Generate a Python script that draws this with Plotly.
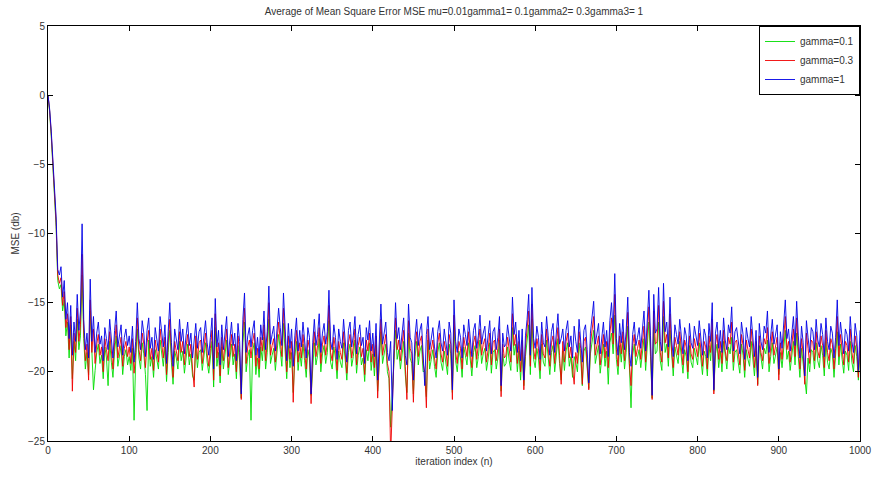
import plotly.graph_objects as go

# iteration index sampled every 2 iterations
iterations = list(range(0, 1001, 2))

mse_gamma_1 = [
    0, -1.0, -2.6, -4.8, -6.5, -8.8, -12.6, -13.0, -12.4, -14.6, -13.4, -16.2, -15.0, -17.6, -15.2, -18.8, -16.4, -17.8, -14.4, -17.0, -15.6, -9.3, -16.2, -18.4, -17.2,
    -19.0, -13.3, -17.8, -16.0, -18.6, -17.2, -16.4, -18.0, -17.4, -19.2, -16.8, -17.6, -18.4, -16.2, -17.9, -19.0, -17.0, -15.6, -18.2, -17.3, -16.6, -18.8, -17.5, -16.9, -18.1,
    -17.4, -18.6, -16.7, -19.3, -17.8, -15.0, -17.6, -18.4, -16.3, -17.2, -18.9, -17.0, -16.1, -18.3, -17.5, -19.1, -16.8, -17.7, -18.5, -16.0, -17.3, -18.2, -16.6, -19.4, -17.1,
    -15.0, -17.9, -19.6, -16.9, -17.6, -18.4, -16.2, -17.8, -16.9, -18.7, -17.4, -16.4, -18.1, -17.2, -19.0, -17.7, -16.5, -18.3, -17.1, -16.8, -18.6, -17.4, -16.3, -17.9, -18.8,
    -17.5, -16.1, -19.8, -14.7, -18.2, -17.0, -19.5, -16.6, -18.4, -17.3, -16.0, -18.9, -17.6, -16.4, -18.1, -17.2, -19.2, -16.5, -17.8, -21.6, -16.2, -14.3, -18.6, -17.4, -16.8,
    -18.2, -17.0, -16.3, -18.8, -17.5, -19.0, -16.6, -17.7, -15.6, -18.4, -17.1, -13.8, -18.0, -17.3, -16.7, -18.5, -17.2, -15.4, -16.8, -18.1, -14.3, -17.4, -19.2, -16.5, -18.3,
    -16.9, -19.6, -17.4, -16.1, -18.5, -17.0, -18.2, -16.4, -17.7, -19.0, -16.8, -17.5, -21.6, -17.9, -16.2, -18.1, -17.3, -15.8, -18.6, -17.2, -16.5, -18.0, -17.1, -14.1, -17.8,
    -18.4, -16.6, -17.5, -19.1, -16.9, -17.8, -18.3, -16.2, -17.6, -19.3, -17.0, -16.4, -18.2, -17.4, -16.0, -18.7, -17.3, -16.6, -18.1, -17.5, -19.4, -16.8, -17.7, -16.3, -18.5,
    -17.2, -18.9, -16.5, -20.6, -17.4, -15.1, -18.0, -17.1, -16.4, -18.6, -19.2, -17.8, -22.8, -18.3, -15.0, -17.6, -16.8, -18.4, -17.2, -16.1, -18.8, -19.5, -15.1, -17.5, -17.9,
    -20.6, -17.4, -16.2, -18.1, -17.0, -16.5, -18.6, -21.0, -17.3, -16.0, -18.4, -17.6, -16.8, -18.2, -19.0, -17.1, -16.3, -17.9, -18.5, -16.9, -17.7, -18.8, -16.4, -17.2, -21.3,
    -14.8, -17.8, -18.6, -16.9, -17.5, -19.0, -16.6, -17.3, -18.1, -16.2, -17.7, -18.9, -17.0, -16.5, -18.3, -17.4, -15.9, -18.0, -17.2, -16.7, -18.5, -17.6, -16.3, -18.7, -17.1,
    -16.8, -18.4, -17.5, -16.0, -21.0, -17.2, -18.2, -18.0, -16.6, -17.8, -18.5, -14.6, -17.3, -16.4, -18.6, -17.0, -19.2, -16.9, -20.6, -17.4, -16.2, -14.4, -18.8, -13.9, -17.6,
    -18.3, -16.7, -17.5, -19.1, -16.4, -17.9, -18.2, -16.0, -17.4, -18.8, -17.1, -16.5, -18.6, -17.3, -15.8, -18.0, -17.6, -16.9, -18.5, -17.0, -16.3, -18.2, -17.4, -19.0, -16.7,
    -17.8, -18.6, -16.2, -17.5, -19.3, -17.0, -16.6, -18.4, -20.8, -17.2, -15.9, -14.9, -18.0, -17.3, -16.5, -18.7, -17.6, -16.4, -18.2, -17.0, -18.9, -16.3, -15.0, -17.2, -12.9,
    -17.6, -18.8, -16.5, -17.9, -16.2, -18.4, -17.1, -14.6, -18.6, -19.6, -17.3, -16.4, -18.1, -17.5, -16.8, -18.3, -17.0, -15.6, -18.5, -16.1, -14.1, -17.4, -21.7, -14.4, -17.2,
    -16.9, -13.9, -17.8, -18.5, -13.6, -17.1, -16.4, -18.2, -14.6, -17.7, -18.9, -16.6, -17.3, -18.0, -16.2, -17.6, -18.7, -16.8, -17.4, -19.2, -16.5, -17.9, -18.3, -16.7, -17.5,
    -18.1, -16.3, -17.6, -18.8, -16.9, -17.4, -19.0, -16.5, -17.8, -15.0, -21.3, -17.2, -16.4, -18.3, -17.0, -18.6, -16.1, -17.7, -18.4, -16.6, -17.2, -15.3, -18.5, -17.1, -16.8,
    -17.9, -18.7, -16.4, -17.3, -19.1, -16.8, -17.6, -18.2, -16.0, -17.5, -18.9, -17.0, -20.4, -16.5, -17.8, -18.4, -16.7, -17.2, -15.6, -18.6, -17.4, -16.2, -18.0, -17.3, -16.6,
    -19.8, -17.1, -18.3, -16.4, -14.8, -17.6, -16.9, -18.5, -17.2, -16.0, -18.1, -14.9, -17.4, -19.0, -16.7, -17.9, -20.3, -16.3, -17.5, -18.6, -16.8, -17.1, -18.4, -16.2, -17.7,
    -18.2, -16.5, -17.3, -18.9, -16.1, -17.8, -18.4, -16.7, -17.2, -19.0, -17.5, -14.8, -18.1, -16.4, -17.6, -18.7, -16.9, -17.3, -18.5, -16.0, -17.8, -18.6, -16.5, -17.4, -19.9,
    -17.0,
]

mse_gamma_03 = [
    0, -1.1, -2.8, -5.0, -6.8, -9.2, -13.0, -13.6, -13.2, -15.2, -14.2, -16.8, -15.8, -18.4, -16.0, -21.4, -17.2, -18.6, -15.4, -17.8, -16.6, -11.5, -17.0, -19.2, -18.0,
    -20.6, -14.8, -18.6, -16.9, -19.4, -18.0, -17.3, -18.8, -18.2, -20.0, -17.6, -18.4, -19.2, -17.1, -18.7, -19.8, -17.9, -16.6, -19.0, -18.1, -17.5, -19.6, -18.3, -17.8, -18.9,
    -18.2, -19.4, -17.6, -20.1, -18.6, -16.1, -18.4, -19.2, -17.2, -18.0, -19.7, -17.9, -17.0, -19.1, -18.3, -19.9, -17.7, -18.5, -19.3, -16.9, -18.1, -19.0, -17.5, -20.2, -17.9,
    -16.2, -18.7, -20.4, -17.8, -18.4, -19.2, -17.1, -18.6, -17.8, -19.5, -18.2, -17.3, -18.9, -18.0, -19.8, -21.1, -17.4, -19.1, -17.9, -17.7, -19.4, -18.2, -17.2, -18.7, -19.6,
    -18.3, -17.0, -20.6, -15.8, -19.0, -17.9, -20.3, -17.5, -19.2, -18.1, -16.9, -19.7, -18.4, -17.3, -18.9, -18.0, -20.0, -17.4, -18.6, -22.0, -17.1, -15.4, -19.4, -18.2, -17.7,
    -19.0, -17.8, -17.2, -19.6, -18.3, -19.8, -17.5, -18.5, -16.6, -19.2, -17.9, -15.0, -18.8, -18.1, -17.6, -19.3, -18.0, -16.4, -17.7, -18.9, -15.4, -18.2, -20.0, -17.4, -19.1,
    -17.8, -22.2, -18.2, -17.0, -19.3, -17.9, -19.0, -17.3, -18.5, -19.8, -17.7, -18.3, -22.3, -18.7, -17.1, -18.9, -18.1, -16.8, -19.4, -18.0, -17.4, -18.8, -17.9, -15.2, -18.6,
    -19.2, -17.5, -18.3, -19.9, -17.8, -18.6, -19.1, -17.1, -18.4, -20.1, -17.9, -17.3, -19.0, -18.2, -16.9, -19.5, -18.1, -17.5, -18.9, -18.3, -20.2, -17.7, -18.5, -17.2, -19.3,
    -18.0, -19.7, -17.4, -21.9, -18.2, -16.2, -18.8, -17.9, -17.3, -19.4, -20.0, -26.0, -22.0, -19.1, -16.1, -18.4, -17.7, -19.2, -18.0, -17.0, -19.6, -22.0, -16.3, -18.3, -18.7,
    -22.2, -18.2, -17.1, -18.9, -17.8, -17.4, -19.4, -20.0, -22.6, -16.9, -19.2, -18.4, -17.7, -19.0, -19.8, -17.9, -17.2, -18.7, -19.3, -17.8, -18.5, -19.6, -17.3, -18.0, -22.0,
    -15.9, -18.6, -19.4, -17.8, -18.3, -19.8, -17.5, -18.1, -18.9, -17.1, -18.5, -19.7, -17.9, -17.4, -19.1, -18.2, -16.9, -18.8, -18.0, -17.6, -19.3, -18.4, -17.2, -19.5, -17.9,
    -17.7, -19.2, -18.3, -16.9, -21.8, -18.0, -19.0, -18.8, -17.5, -18.6, -19.3, -15.8, -18.1, -17.3, -19.4, -17.8, -20.0, -17.7, -21.3, -18.2, -17.1, -15.6, -19.6, -15.1, -18.4,
    -19.1, -17.6, -18.3, -19.9, -17.3, -18.7, -19.0, -16.9, -18.2, -19.6, -17.9, -17.4, -19.4, -18.1, -16.8, -18.8, -20.9, -17.8, -19.3, -17.8, -17.2, -19.0, -18.2, -19.8, -20.9,
    -18.6, -19.4, -17.1, -18.3, -20.9, -17.8, -17.5, -19.2, -21.3, -18.0, -16.9, -16.0, -18.8, -18.1, -17.4, -19.5, -18.4, -17.3, -19.0, -17.8, -19.7, -17.2, -16.1, -18.0, -14.4,
    -18.4, -19.6, -17.4, -18.7, -17.1, -19.2, -17.9, -15.7, -19.4, -21.0, -18.1, -17.3, -18.9, -18.3, -17.7, -19.1, -17.8, -16.7, -19.3, -17.0, -15.3, -18.2, -22.0, -15.6, -18.0,
    -17.8, -15.2, -18.6, -19.3, -14.9, -17.9, -17.3, -19.0, -15.8, -18.5, -19.7, -17.5, -18.1, -18.8, -17.1, -18.4, -19.5, -17.7, -18.2, -20.0, -17.4, -18.7, -19.1, -17.6, -18.3,
    -18.9, -17.2, -18.4, -19.6, -17.8, -18.2, -19.8, -17.4, -18.6, -16.2, -21.6, -18.0, -17.3, -19.1, -17.8, -19.4, -17.0, -18.5, -19.2, -17.5, -18.0, -16.4, -19.3, -17.9, -17.7,
    -18.7, -19.5, -17.3, -18.1, -19.9, -17.7, -18.4, -19.0, -16.9, -18.3, -19.7, -17.8, -21.0, -17.4, -18.6, -19.2, -17.6, -18.0, -16.8, -19.4, -18.2, -17.1, -18.8, -18.1, -17.5,
    -20.6, -17.9, -19.1, -17.3, -16.0, -18.4, -17.8, -19.3, -18.0, -16.9, -18.9, -16.1, -18.2, -19.8, -17.6, -18.7, -20.9, -17.2, -18.3, -19.4, -17.7, -17.9, -19.2, -17.1, -18.5,
    -19.0, -17.4, -18.1, -19.7, -17.0, -18.6, -19.2, -17.6, -18.0, -19.8, -18.3, -16.0, -18.9, -17.3, -18.4, -19.5, -17.8, -18.1, -19.3, -16.9, -18.6, -19.4, -17.4, -18.2, -20.4,
    -17.8,
]

mse_gamma_01 = [
    0, -1.2, -3.0, -5.2, -7.0, -9.5, -13.4, -14.0, -13.7, -15.6, -14.8, -17.4, -16.4, -19.0, -16.6, -20.5, -17.8, -19.2, -16.2, -18.4, -17.4, -13.0, -17.6, -19.8, -18.6,
    -20.2, -15.6, -19.2, -21.3, -19.9, -18.6, -18.0, -19.4, -18.8, -20.5, -18.2, -19.0, -21.0, -17.8, -19.3, -20.4, -18.5, -17.4, -19.6, -18.7, -18.1, -20.2, -18.9, -18.4, -19.5,
    -18.9, -19.9, -18.3, -23.5, -19.2, -16.9, -19.0, -19.8, -17.9, -18.7, -20.2, -22.8, -17.7, -19.6, -18.9, -20.4, -18.4, -19.1, -19.8, -17.7, -18.8, -19.6, -18.2, -20.7, -18.6,
    -17.0, -19.3, -20.9, -18.5, -19.0, -19.8, -17.8, -19.2, -18.5, -20.1, -18.9, -18.0, -19.5, -18.7, -20.3, -20.6, -18.1, -19.7, -18.6, -18.4, -19.9, -18.9, -17.9, -19.3, -20.1,
    -19.0, -17.8, -21.1, -16.8, -19.6, -18.6, -20.8, -18.2, -19.8, -18.8, -17.7, -20.2, -19.1, -18.0, -19.5, -18.7, -20.5, -18.1, -19.3, -21.9, -17.9, -16.4, -20.0, -18.9, -18.4,
    -23.5, -18.5, -17.9, -20.2, -19.0, -20.4, -18.2, -19.2, -17.5, -19.8, -18.6, -16.2, -19.4, -18.8, -18.3, -19.9, -18.7, -17.3, -18.4, -19.6, -16.5, -18.9, -20.5, -18.1, -19.7,
    -18.6, -21.5, -18.9, -17.8, -19.9, -18.6, -19.6, -18.0, -19.2, -20.4, -18.4, -19.0, -21.7, -19.4, -17.9, -19.5, -18.8, -17.6, -20.0, -18.7, -18.1, -19.4, -18.6, -16.3, -19.3,
    -19.8, -18.2, -19.0, -20.5, -18.5, -19.3, -19.7, -17.9, -19.1, -20.6, -18.6, -18.0, -19.6, -18.9, -17.7, -20.1, -18.8, -18.2, -19.5, -19.0, -20.7, -18.4, -19.2, -17.9, -19.9,
    -18.7, -20.3, -18.1, -21.4, -18.9, -17.1, -19.4, -18.6, -18.0, -20.0, -20.5, -24.0, -21.6, -19.7, -17.0, -19.1, -18.4, -19.8, -18.7, -17.8, -20.2, -21.5, -17.2, -19.0, -19.4,
    -21.6, -18.9, -17.8, -19.5, -18.5, -18.1, -20.0, -19.9, -21.8, -17.7, -19.8, -19.1, -18.4, -19.6, -20.4, -18.6, -17.9, -19.3, -19.9, -18.5, -19.2, -20.2, -18.0, -18.7, -21.5,
    -16.8, -19.2, -20.0, -18.5, -19.0, -20.4, -18.2, -18.8, -19.5, -17.9, -19.1, -20.3, -18.6, -18.1, -19.7, -18.9, -17.7, -19.4, -18.7, -18.3, -19.9, -19.1, -17.9, -20.1, -18.6,
    -18.4, -19.8, -19.0, -17.7, -21.4, -18.7, -19.6, -19.4, -18.2, -19.2, -19.9, -16.8, -18.8, -18.0, -20.0, -18.5, -20.6, -18.4, -21.0, -18.9, -17.9, -16.6, -20.2, -16.2, -19.1,
    -19.7, -18.3, -19.0, -20.5, -18.0, -19.3, -19.6, -17.7, -18.9, -20.2, -18.6, -18.1, -20.0, -18.8, -17.6, -19.4, -20.6, -18.5, -19.9, -18.5, -17.9, -19.6, -18.9, -20.4, -18.9,
    -19.3, -20.0, -17.9, -19.0, -21.0, -18.5, -18.2, -19.8, -21.2, -18.7, -17.7, -17.0, -19.4, -18.8, -18.1, -20.1, -19.1, -18.0, -19.6, -18.5, -20.9, -17.9, -17.2, -18.7, -15.9,
    -19.1, -20.2, -18.1, -19.3, -17.8, -19.8, -18.6, -16.7, -20.0, -22.6, -18.8, -18.0, -19.5, -19.0, -18.4, -19.7, -18.5, -17.6, -19.9, -17.8, -16.4, -18.9, -21.9, -16.8, -18.7,
    -18.5, -16.4, -19.2, -19.9, -16.0, -18.6, -18.0, -19.6, -17.0, -19.1, -20.3, -18.2, -18.8, -19.4, -17.8, -19.0, -20.1, -18.4, -18.9, -20.5, -18.1, -19.3, -19.7, -18.3, -19.0,
    -19.5, -17.9, -19.0, -20.2, -18.5, -18.9, -20.3, -18.1, -19.2, -17.3, -21.4, -18.7, -18.0, -19.7, -18.5, -20.0, -17.8, -19.1, -19.8, -18.2, -18.7, -17.5, -19.9, -18.6, -18.4,
    -19.3, -20.1, -18.0, -18.8, -20.4, -18.4, -19.1, -19.6, -17.8, -19.0, -20.3, -18.5, -20.9, -18.1, -19.2, -19.8, -18.3, -18.7, -17.7, -20.0, -18.9, -17.9, -19.4, -18.8, -18.2,
    -20.2, -18.6, -19.7, -18.0, -17.0, -19.1, -18.5, -19.9, -18.7, -17.8, -19.5, -17.2, -18.9, -20.4, -18.3, -19.3, -20.6, -21.6, -19.0, -20.0, -18.4, -18.6, -19.8, -17.9, -19.2,
    -19.7, -18.1, -18.8, -20.3, -17.8, -19.3, -19.8, -18.3, -18.7, -20.4, -19.0, -17.1, -19.5, -18.0, -19.1, -20.1, -18.5, -18.8, -19.9, -17.8, -19.3, -20.0, -18.1, -18.9, -20.6,
    -18.5,
]

series = [
    ("gamma=0.1", mse_gamma_01, "rgb(0,220,0)"),
    ("gamma=0.3", mse_gamma_03, "rgb(240,0,0)"),
    ("gamma=1", mse_gamma_1, "rgb(0,0,230)"),
]

x_ticks = list(range(0, 1001, 100))
y_ticks = list(range(-25, 6, 5))

FONT = "Liberation Sans, Arial, Helvetica, sans-serif"

fig = go.Figure()
for name, vals, col in series:
    fig.add_trace(go.Scatter(
        x=iterations[:len(vals)], y=vals, mode="lines", name=name,
        line=dict(color=col, width=0.9),
    ))

axis_common = dict(
    showline=True, linecolor="black", linewidth=1, mirror="ticks",
    ticks="inside", ticklen=5, tickcolor="black", showgrid=False, zeroline=False,
    tickfont=dict(family=FONT, size=10, color="#333"),
)

fig.update_layout(
    width=884, height=478,
    margin=dict(l=48, r=18, t=26, b=37),
    paper_bgcolor="white", plot_bgcolor="white",
    title=dict(
        text="Average of Mean Square Error MSE mu=0.01gamma1= 0.1gamma2= 0.3gamma3= 1",
        x=0.5, xref="paper", xanchor="center", y=0.975, yanchor="middle",
        font=dict(family=FONT, size=10, color="#333"),
    ),
    xaxis=dict(range=[0, 1000], tickvals=x_ticks,
               title=dict(text="iteration index (n)", standoff=2,
                          font=dict(family=FONT, size=10, color="#333")),
               **axis_common),
    yaxis=dict(range=[-25, 5], tickvals=y_ticks,
               title=dict(text="MSE (db)", standoff=6,
                          font=dict(family=FONT, size=10, color="#333")),
               **axis_common),
    legend=dict(
        x=1, y=1, xanchor="right", yanchor="top",
        bgcolor="white", bordercolor="black", borderwidth=1,
        font=dict(family=FONT, size=10, color="#333"),
        tracegroupgap=0, itemwidth=30,
    ),
    showlegend=True,
)

fig.write_html("out.html")
